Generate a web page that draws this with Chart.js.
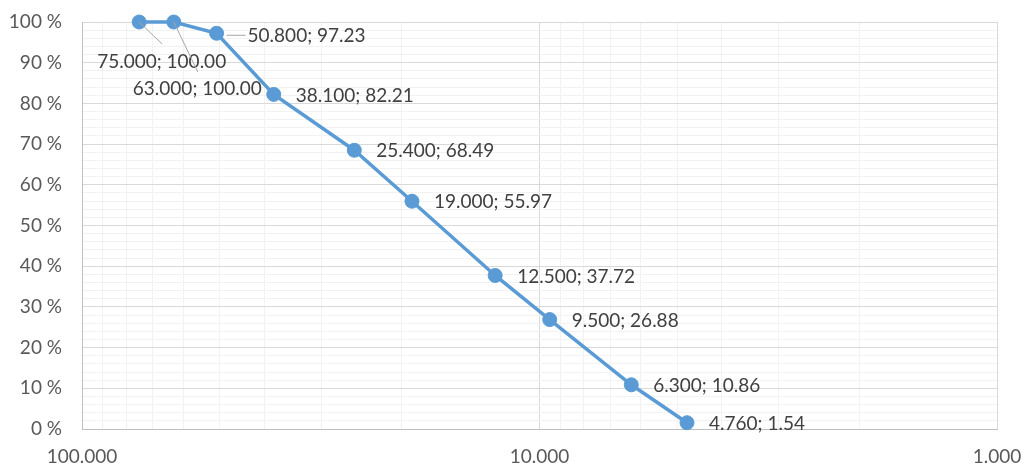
<!DOCTYPE html>
<html>
<head>
<meta charset="utf-8">
<script src="https://cdn.jsdelivr.net/npm/chart.js@4.4.1/dist/chart.umd.min.js"></script>
<style>
  html, body { margin: 0; padding: 0; background: #fff; }
  .chart-container { width: 1024px; height: 465px; }
</style>
</head>
<body>
<div class="chart-container"><canvas id="sieveChart"></canvas></div>
<script>
// sieve sizes (mm) and cumulative passing (%)
const sieveSizes = [75, 63, 50.8, 38.1, 25.4, 19, 12.5, 9.5, 6.3, 4.76];
const percentPassing = [100, 100, 97.23, 82.21, 68.49, 55.97, 37.72, 26.88, 10.86, 1.54];
const xGridValues = [1, 2, 3, 4, 5, 6, 7, 8, 9, 10, 20, 30, 40, 50, 60, 70, 80, 90, 100];
const xLabelValues = [1, 10, 100];

const lineColour = '#5B9BD5';
const majorGrid = '#D9D9D9';
const minorGrid = '#F2F2F2';
const fontFamily = 'Lato, "Open Sans", sans-serif';

// label placement relative to the point (only the crowded ones differ)
const labelPlacement = {
  0: { dx: -42, dy: 40, leader: [[0, 0], [23, 22]] },
  1: { dx: -41, dy: 67, leader: [[0, 0], [24, 50]] },
  2: { dx: 31, dy: 3, leader: [[10, 2], [29, 2]] }
};

const pointLabels = {
  id: 'pointLabels',
  afterDatasetsDraw(chart) {
    const ctx = chart.ctx;
    const meta = chart.getDatasetMeta(0);
    ctx.save();
    meta.data.forEach((pt, i) => {
      const place = labelPlacement[i] || { dx: 22, dy: 1 };
      if (place.leader) {
        ctx.strokeStyle = '#A6A6A6';
        ctx.lineWidth = 1;
        ctx.beginPath();
        ctx.moveTo(pt.x + place.leader[0][0], pt.y + place.leader[0][1]);
        ctx.lineTo(pt.x + place.leader[1][0], pt.y + place.leader[1][1]);
        ctx.stroke();
      }
      const text = sieveSizes[i].toFixed(3) + '; ' + percentPassing[i].toFixed(2);
      ctx.font = '19px ' + fontFamily;
      ctx.fillStyle = '#404040';
      ctx.textAlign = 'left';
      ctx.textBaseline = 'middle';
      ctx.fillText(text, pt.x + place.dx, pt.y + place.dy);
    });
    ctx.restore();
  }
};

new Chart(document.getElementById('sieveChart'), {
  type: 'line',
  data: {
    datasets: [{
      data: sieveSizes.map((s, i) => ({ x: s, y: percentPassing[i] })),
      borderColor: lineColour,
      backgroundColor: lineColour,
      borderWidth: 3.5,
      pointRadius: 7,
      pointBorderWidth: 1,
      pointBorderColor: lineColour,
      pointBackgroundColor: lineColour,
      tension: 0,
      fill: false,
      clip: false
    }]
  },
  options: {
    responsive: true,
    maintainAspectRatio: false,
    animation: false,
    layout: { padding: { top: 22, right: 27, left: 0, bottom: 0 } },
    plugins: {
      legend: { display: false },
      tooltip: { enabled: false }
    },
    scales: {
      x: {
        type: 'logarithmic',
        reverse: true,
        min: 1,
        max: 100,
        afterBuildTicks: (scale) => {
          scale.ticks = xGridValues.map(v => ({ value: v }));
        },
        afterFit: (scale) => { scale.height = 36; },
        grid: {
          color: (c) => (c.tick && xLabelValues.includes(c.tick.value)) ? majorGrid : minorGrid,
          lineWidth: 1,
          drawTicks: false
        },
        border: { display: true, color: '#BFBFBF', width: 1 },
        ticks: {
          autoSkip: false,
          maxRotation: 0,
          padding: 16,
          color: '#595959',
          font: { family: fontFamily, size: 19 },
          callback: (v) => xLabelValues.includes(v) ? v.toFixed(3) : ''
        }
      },
      y: {
        min: 0,
        max: 100,
        afterFit: (scale) => {
          scale.width = 82;
          scale.paddingTop = 0;
          scale.paddingBottom = 0;
        },
        grid: {
          color: (c) => (c.tick && Math.round(c.tick.value) % 10 === 0) ? majorGrid : minorGrid,
          lineWidth: 1,
          drawTicks: false
        },
        border: { display: true, color: '#BFBFBF', width: 1 },
        ticks: {
          stepSize: 2,
          autoSkip: false,
          padding: 20,
          color: '#595959',
          font: { family: fontFamily, size: 19 },
          callback: (v) => Math.round(v) % 10 === 0 ? Math.round(v) + ' %' : ''
        }
      }
    }
  },
  plugins: [pointLabels]
});
</script>
</body>
</html>
